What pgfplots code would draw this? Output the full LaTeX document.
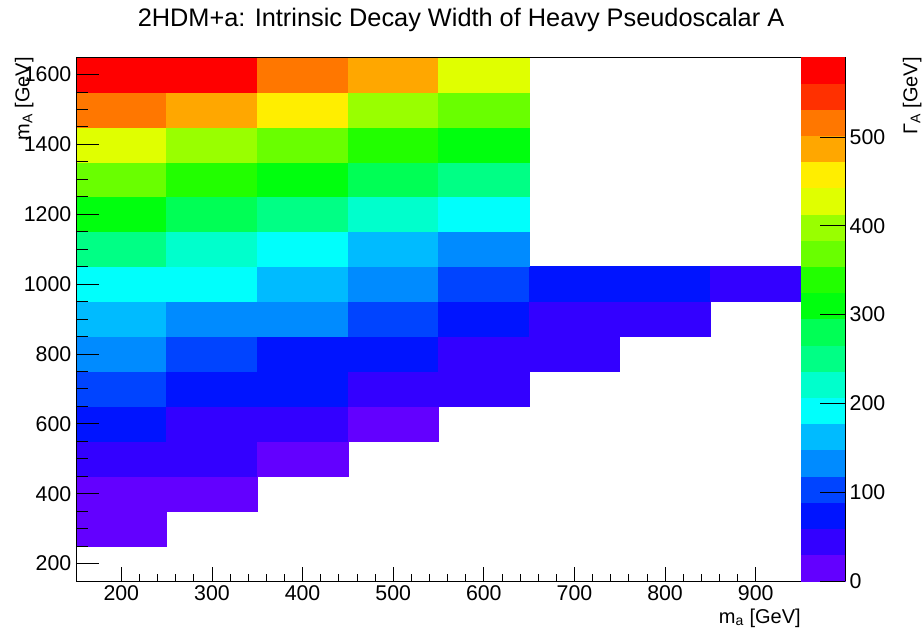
\documentclass[border=0pt]{standalone}
\usepackage{pgfplots}
\pgfplotsset{compat=1.18}
\usepackage{fontspec}
\setmainfont{Liberation Sans}
\begin{document}
\begin{tikzpicture}[x=1pt,y=1pt]
\useasboundingbox (-57pt,-36pt) rectangle (634.5pt,435.75pt);
\begin{axis}[
  at={(0pt,0pt)}, anchor=south west,
  scale only axis,
  width=543.75pt, height=393pt,
  xmin=150, xmax=950, ymin=150, ymax=1650,
  axis on top,
  font=\fontsize{16pt}{19pt}\selectfont,
  /pgf/number format/assume math mode=true,
  /pgf/number format/1000 sep={},
  xtick={200,300,...,900}, minor x tick num=4,
  ytick={200,400,...,1600}, minor y tick num=3,
  xtick pos=bottom, ytick pos=left,
  tick align=inside,
  x tick style={/pgfplots/major tick length=10.5pt,/pgfplots/minor tick length=5.5pt, black, line width=0.6pt},
  y tick style={/pgfplots/major tick length=17.5pt,/pgfplots/minor tick length=9pt, black, line width=0.6pt},
  axis line style={black, line width=0.6pt},
  colormap={rootpal}{rgb255=(99,0,255) rgb255=(51,0,255) rgb255=(0,20,255) rgb255=(0,68,255) rgb255=(0,139,255) rgb255=(0,187,255) rgb255=(0,255,252) rgb255=(0,255,204) rgb255=(0,255,133) rgb255=(0,255,85) rgb255=(0,255,14) rgb255=(34,255,0) rgb255=(105,255,0) rgb255=(153,255,0) rgb255=(224,255,0) rgb255=(255,238,0) rgb255=(255,167,0) rgb255=(255,119,0) rgb255=(255,48,0) rgb255=(255,0,0)},
  colormap access=piecewise constant,
  point meta min=0, point meta max=590,
  colorbar,
  colorbar style={
    at={(1,0)}, anchor=south west, xshift=3pt,
    scale only axis, width=33pt, height=393pt,
    ymin=0, ymax=590,
    ytick={0,100,...,500},
    hide x axis,
    axis y line*=right,
    ytick pos=right, yticklabel pos=right,
    tick align=inside,
    y tick style={/pgfplots/major tick length=18.75pt, black, line width=0.6pt},
    minor y tick num=0,
    axis line style={black, line width=0.6pt},
    font=\fontsize{16pt}{19pt}\selectfont,
    /pgf/number format/assume math mode=true,
  },
]
\addplot[matrix plot*, mesh/cols=8, point meta=explicit, unbounded coords=jump]
table[meta=z] {
x y z
200 200 nan
300 200 nan
400 200 nan
500 200 nan
600 200 nan
700 200 nan
800 200 nan
900 200 nan
200 300 15
300 300 nan
400 300 nan
500 300 nan
600 300 nan
700 300 nan
800 300 nan
900 300 nan
200 400 15
300 400 15
400 400 nan
500 400 nan
600 400 nan
700 400 nan
800 400 nan
900 400 nan
200 500 44
300 500 44
400 500 15
500 500 nan
600 500 nan
700 500 nan
800 500 nan
900 500 nan
200 600 74
300 600 44
400 600 44
500 600 15
600 600 nan
700 600 nan
800 600 nan
900 600 nan
200 700 103
300 700 74
400 700 74
500 700 44
600 700 44
700 700 nan
800 700 nan
900 700 nan
200 800 133
300 800 103
400 800 74
500 800 74
600 800 44
700 800 44
800 800 nan
900 800 nan
200 900 162
300 900 133
400 900 133
500 900 103
600 900 74
700 900 44
800 900 44
900 900 nan
200 1000 192
300 1000 192
400 1000 162
500 1000 133
600 1000 103
700 1000 74
800 1000 74
900 1000 44
200 1100 251
300 1100 221
400 1100 192
500 1100 162
600 1100 133
700 1100 nan
800 1100 nan
900 1100 nan
200 1200 310
300 1200 280
400 1200 251
500 1200 221
600 1200 192
700 1200 nan
800 1200 nan
900 1200 nan
200 1300 369
300 1300 339
400 1300 310
500 1300 280
600 1300 251
700 1300 nan
800 1300 nan
900 1300 nan
200 1400 428
300 1400 398
400 1400 369
500 1400 339
600 1400 310
700 1400 nan
800 1400 nan
900 1400 nan
200 1500 516
300 1500 487
400 1500 457
500 1500 398
600 1500 369
700 1500 nan
800 1500 nan
900 1500 nan
200 1600 580
300 1600 580
400 1600 516
500 1600 487
600 1600 428
700 1600 nan
800 1600 nan
900 1600 nan
};
\end{axis}
\node[anchor=base, font=\fontsize{19pt}{22pt}\selectfont] at (288.75pt,416pt) {2HDM+a: Intrinsic Decay Width of Heavy Pseudoscalar A};
\node[anchor=base east, font=\fontsize{15pt}{18pt}\selectfont, inner sep=0pt] at (543.75pt,-31.5pt) {m\textsubscript{a} [GeV]};
\node[rotate=90, anchor=base east, font=\fontsize{15pt}{18pt}\selectfont, inner sep=0pt] at (-35pt,393pt) {m\textsubscript{A} [GeV]};
\node[rotate=90, anchor=base east, font=\fontsize{15pt}{18pt}\selectfont, inner sep=0pt] at (631pt,393pt) {Γ\textsubscript{A} [GeV]};
\end{tikzpicture}
\end{document}
